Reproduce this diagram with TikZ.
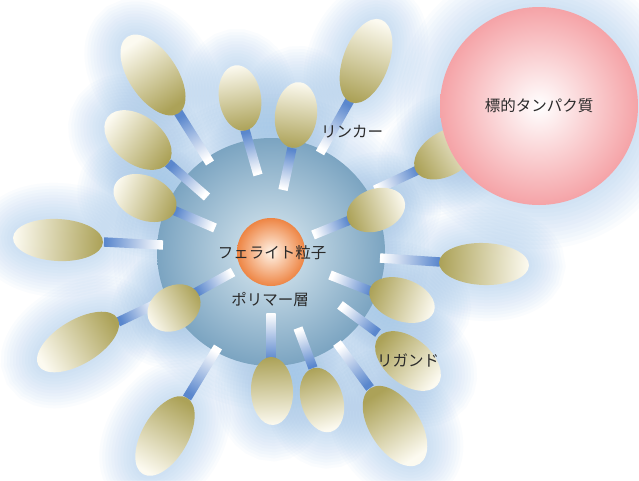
\documentclass[tikz,border=0pt]{standalone}
\usepackage{fontspec}
\newfontfamily\jpfont{Noto Sans CJK JP}

\definecolor{sphereedge}{HTML}{7BA4C1}
\definecolor{spherecore}{HTML}{DDEBF2}
\definecolor{ferrite}{HTML}{EE8544}
\definecolor{ferritecore}{HTML}{FFF4E8}
\definecolor{targetpink}{HTML}{F5A3A7}
\definecolor{linkblue}{HTML}{5A87CD}
\definecolor{ligolive}{HTML}{ACA258}
\definecolor{ligcream}{HTML}{FCFAF0}
\definecolor{haloblue}{HTML}{8DBBE8}
\definecolor{textgray}{HTML}{2A2A2A}

\tikzset{
    glow/.style={draw=haloblue, draw opacity=0.04},
    ligand/.style={left color=ligcream, right color=ligolive},
    linker/.style={left color=white, right color=linkblue},
    tag/.style={font=\jpfont\fontsize{15.5}{18}\selectfont, text=textgray, inner sep=0pt},
}

% ellipse centre x/y, direction of the olive end (deg, clockwise), half axes
\newcommand\ligands{58/240/3/45/21, 78/342/-31/46/22, 174/308/-31/28/22,
    165/436/-60/44/23, 272/391/-92/34/21, 322/400/-106/33/21,
    395/426/-123/45/25, 408/361/-141/38/23, 402/300/-160/34/21,
    484/264/-178/45/21, 376/210/160/30/21, 447/153/149/36/22,
    366/61/110/44/23, 296/115/97/33/21, 240/98/81/33/21,
    153/75/56/46/24, 138/140/37/38/24, 145/198/23/33/22}
% linker white end x/y, blue end x/y
\newcommand\linkers{163/245/104/242, 160/302/118/322, 233/272/195/293,
    218/347/187/398, 271/313/271/360, 298/328/313/368,
    337/343/370/388, 340/305/378/333, 330/275/373/292,
    380/258/440/262, 313/235/350/220, 375/190/420/169,
    320/153/350/100, 283/190/292/148, 258/175/245/130,
    210/163/178/112, 207/197/168/163, 215/228/173/210}

\begin{document}
\begin{tikzpicture}[x=1pt, y=-1pt]
    \clip (0,0) rectangle (639,480);
    \fill[white] (0,0) rectangle (639,480);

    \coordinate (polymer) at (271,252);
    \coordinate (target) at (539,106);

    % soft glow round the whole particle
    \foreach \w in {8,16,...,88} {
        \draw[glow, line width=\w] (polymer) circle [radius=114];
        \draw[glow, line width=\w] (target) circle [radius=99];
    }
    \foreach \cx/\cy/\s/\a/\b in \ligands {
        \begin{scope}[shift={(\cx,\cy)}, rotate=-\s]
            \foreach \w in {6,12,...,72}
                \draw[glow, line width=\w] (0,0) ellipse [x radius=\a, y radius=\b];
        \end{scope}
    }

    % polymer layer
    \shade[inner color=spherecore, outer color=sphereedge] (polymer) circle [radius=114];

    % linkers
    \foreach \ix/\iy/\ox/\oy in \linkers {
        \pgfmathsetmacro\ang{atan2(\iy-\oy,\ox-\ix)}
        \pgfmathsetmacro\len{veclen(\ox-\ix,\oy-\iy)}
        \begin{scope}[shift={(\ix,\iy)}, rotate=\ang]
            \shade[linker, shading angle=\ang+90] (0,-4.7) rectangle (\len,4.7);
        \end{scope}
    }

    % ferrite core
    \shade[inner color=ferritecore, outer color=ferrite] (polymer) circle [radius=34];

    % ligands
    \foreach \cx/\cy/\s/\a/\b in \ligands {
        \begin{scope}[shift={(\cx,\cy)}, rotate=-\s]
            \shade[ligand, shading angle=90-\s] (0,0) ellipse [x radius=\a, y radius=\b];
        \end{scope}
    }

    % target protein
    \shade[inner color=white, outer color=targetpink] (target) circle [radius=99];

    % labels
    \node[tag] (ferritelabel) at (272,253) {フェライト粒子};
    \node[tag] (polymerlabel) at (270,300) {ポリマー層};
    \node[tag] (linkerlabel) at (352,132) {リンカー};
    \node[tag] (ligandlabel) at (408,360) {リガンド};
    \node[tag] (targetlabel) at (target) {標的タンパク質};
\end{tikzpicture}
\end{document}
